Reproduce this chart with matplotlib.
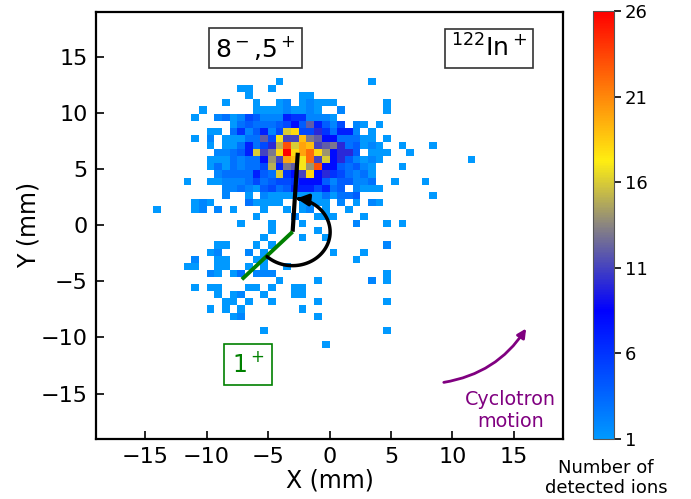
import matplotlib
matplotlib.use('Agg')
import matplotlib.pyplot as plt
import numpy as np
from matplotlib.colors import LinearSegmentedColormap
from matplotlib.patches import FancyArrowPatch
from matplotlib.path import Path

W, H = 691, 499

# detected ions per detector cell, top row first: {column: count}
ion_counts = [
    {-7: 1, 5: 1},
    {-12: 1, -11: 1, -8: 1},
    {-11: 1, -4: 1, -3: 1},
    {-14: 1, -10: 1, -7: 1, -6: 2, -4: 1, -3: 2, -2: 1, -1: 1, 0: 1, 7: 1},
    {-17: 1, -10: 1, -9: 1, -8: 1, -7: 1, -6: 2, -5: 1, -4: 1, -3: 2, -2: 1, 1: 2, 7: 1},
    {-18: 1, -15: 2, -14: 3, -13: 1, -12: 2, -11: 5, -10: 4, -9: 2, -8: 2, -7: 2, -6: 7, -5: 6, -4: 6, -3: 2, -2: 2, -1: 2, 0: 1},
    {-13: 1, -12: 3, -11: 4, -10: 3, -9: 3, -8: 3, -7: 4, -6: 5, -5: 8, -4: 4, -3: 12, -2: 7, -1: 4, 0: 2, 1: 5, 3: 2, 4: 1, 6: 1},
    {-16: 1, -15: 1, -13: 3, -12: 6, -11: 2, -10: 4, -9: 7, -8: 2, -7: 5, -6: 16, -5: 18, -4: 5, -3: 5, -2: 10, -1: 6, 0: 3, 1: 7, 2: 7, 3: 2, 5: 1},
    {-18: 1, -16: 2, -14: 1, -13: 1, -12: 1, -11: 3, -10: 3, -9: 12, -8: 5, -7: 17, -6: 11, -5: 11, -4: 19, -3: 13, -2: 12, -1: 8, 0: 8, 1: 3, 2: 3, 3: 3, 4: 1, 5: 1, 7: 1},
    {-16: 1, -14: 1, -13: 1, -12: 3, -11: 7, -10: 3, -9: 5, -8: 10, -7: 15, -6: 23, -5: 16, -4: 20, -3: 19, -2: 11, -1: 12, 0: 13, 1: 10, 2: 3, 3: 4, 4: 1, 5: 2, 6: 1, 9: 1, 13: 1},
    {-15: 2, -14: 2, -13: 3, -12: 4, -11: 7, -10: 16, -9: 11, -8: 13, -7: 18, -6: 26, -5: 18, -4: 20, -3: 22, -2: 18, -1: 14, 0: 8, 1: 10, 2: 10, 3: 4, 5: 1, 6: 1, 7: 1, 10: 1},
    {-16: 1, -15: 1, -14: 1, -13: 3, -12: 2, -11: 3, -10: 3, -9: 8, -8: 14, -7: 11, -6: 20, -5: 19, -4: 17, -3: 22, -2: 11, -1: 16, 0: 8, 1: 10, 2: 4, 3: 2, 4: 1, 5: 2, 6: 1, 18: 1},
    {-16: 1, -15: 3, -14: 1, -13: 3, -12: 2, -11: 3, -10: 3, -9: 5, -8: 15, -7: 7, -6: 13, -5: 12, -4: 17, -3: 14, -2: 23, -1: 8, 0: 8, 1: 4, 2: 3, 3: 4, 4: 2, 5: 1, 9: 1},
    {-15: 2, -14: 3, -13: 3, -12: 3, -11: 3, -10: 7, -9: 4, -8: 3, -7: 16, -6: 6, -5: 8, -4: 11, -3: 18, -2: 8, -1: 10, 0: 6, 1: 5, 2: 3, 3: 2, 4: 3, 5: 1},
    {-19: 1, -16: 1, -15: 1, -14: 2, -13: 2, -12: 2, -11: 3, -10: 5, -9: 3, -8: 4, -7: 5, -6: 5, -5: 6, -4: 8, -3: 8, -2: 8, -1: 4, 0: 2, 1: 4, 2: 4, 3: 2, 4: 2, 5: 3, 8: 1, 12: 1},
    {-14: 2, -13: 2, -12: 3, -11: 2, -10: 1, -9: 4, -8: 5, -7: 3, -6: 4, -5: 7, -4: 7, -3: 7, -2: 5, -1: 7, 0: 3, 1: 4, 3: 2, 4: 1, 5: 1, 6: 1},
    {-14: 2, -11: 1, -9: 2, -8: 1, -7: 1, -6: 1, -5: 1, -4: 1, -3: 1, -2: 1, -1: 3, 0: 1, 1: 3, 2: 3, 3: 4, 13: 1},
    {-18: 1, -17: 2, -16: 1, -11: 3, -10: 1, -9: 1, -8: 1, -7: 1, -4: 1, -3: 1, -2: 1, -1: 1, 1: 2, 3: 1, 5: 2, 6: 1},
    {-23: 1, -18: 1, -17: 2, -15: 2, -13: 1, -9: 1, -6: 1, -4: 1, -3: 2, -1: 1, 2: 1},
    {-10: 1, -5: 2, -2: 1, -1: 1, 0: 1, 4: 1},
    {-12: 1, -8: 1, -4: 1, 3: 2, 7: 1, 9: 1},
    {-8: 1, -2: 1},
    {-9: 1, -4: 1, -1: 1},
    {-15: 1, -14: 1, -10: 1, -8: 1, 7: 2},
    {-16: 1, -15: 2, -11: 2, -9: 1, 0: 1, 4: 1},
    {-18: 2, -15: 1, -14: 1, -10: 1, -9: 1, 3: 1},
    {-19: 1, -18: 1, -15: 1, -14: 1, -11: 1, -9: 1, -6: 1},
    {-16: 2, -15: 1, -13: 1, -12: 3, -10: 2, -9: 2, -8: 2, 7: 1},
    {-7: 1, -2: 1, 5: 2, 7: 1},
    {-18: 1, -16: 1, -15: 1, -11: 1, -10: 1, -8: 1, -5: 1, -4: 1},
    {-15: 1, -13: 1, -12: 2, -9: 1, -5: 1, -4: 1},
    {-14: 1, -13: 1, -11: 1, -8: 1, -2: 1, 7: 1},
    {-16: 1, -14: 1, -12: 1, -4: 1},
    {-13: 1, -12: 2, -2: 1},
    {},
    {-9: 1, 7: 1},
    {},
    {-1: 1},
]
first_col, last_col = -23, 18
cell_width = 0.625
cell_height = 0.6333
top_edge = 13.12

cbar_ticks = [1, 6, 11, 16, 21, 26]
axis_ticks = [-15, -10, -5, 0, 5, 10, 15]

plt.rcParams['font.family'] = 'DejaVu Sans'

grid = np.zeros((len(ion_counts), last_col - first_col + 1))
for r, row in enumerate(ion_counts):
    for col, n in row.items():
        grid[r, col - first_col] = n
grid = np.ma.masked_equal(grid, 0)

x_edges = cell_width * np.arange(first_col, last_col + 2)
y_edges = top_edge - cell_height * np.arange(len(ion_counts) + 1)

cmap = LinearSegmentedColormap.from_list('ions', [
    (0.0, '#0099ff'), (0.3, '#0000ff'), (0.5, '#8a8580'),
    (0.65, '#ffee11'), (1.0, '#ff0000')])

fig = plt.figure(figsize=(W / 100, H / 100), dpi=100)
ax = fig.add_axes([96 / W, (H - 438.5) / H, 467 / W, 426.5 / H])
mesh = ax.pcolormesh(x_edges, y_edges, grid, cmap=cmap, vmin=1, vmax=26)
ax.set_xlim(-19, 19)
ax.set_ylim(-19, 19)
ax.set_xticks(axis_ticks)
ax.set_yticks(axis_ticks)
ax.tick_params(direction='in', length=6, width=1.2, labelsize=16, pad=6)
for s in ax.spines.values():
    s.set_linewidth(1.6)
ax.set_xlabel('X (mm)', fontsize=17, labelpad=1)
ax.set_ylabel('Y (mm)', fontsize=17, labelpad=0)

# state lines
ax.plot([-3.0, -2.58], [-0.58, 6.46], color='k', lw=3, solid_capstyle='butt')
ax.plot([-3.0, -7.13], [-0.58, -4.82], color='green', lw=2.8, solid_capstyle='butt')

# rotation arc
t = np.radians(np.linspace(-133, 84, 80))
arc = np.column_stack([-3.0 + 3.05 * np.cos(t), -0.6 + 3.0 * np.sin(t)])
ax.add_patch(FancyArrowPatch(path=Path(arc), arrowstyle='-|>', mutation_scale=17,
                             color='k', lw=2.5, zorder=4))

ax.annotate('', xy=(16.0, -9.2), xytext=(9.3, -14.0),
            arrowprops=dict(arrowstyle='-|>', color='purple', lw=2, mutation_scale=13,
                            connectionstyle='arc3,rad=0.22', shrinkA=0, shrinkB=0))
ax.text(14.75, -16.5, 'Cyclotron\nmotion', color='purple', fontsize=13.8, ha='center',
        va='center', linespacing=1.15)

ax.text(-6.0, 15.75, '8$^-$,5$^+$', fontsize=18, ha='center', va='center',
        bbox=dict(boxstyle='square,pad=0.24', fc='white', ec='#333333', lw=1.2))
ax.text(13.0, 15.75, '$^{122}$In$^+$', fontsize=18, ha='center', va='center',
        bbox=dict(boxstyle='square,pad=0.24', fc='white', ec='#333333', lw=1.2))
ax.text(-6.6, -12.4, '1$^+$', fontsize=17, color='green', ha='center', va='center',
        bbox=dict(boxstyle='square,pad=0.33', fc='white', ec='green', lw=1.2))

cax = fig.add_axes([592.5 / W, (H - 439) / H, 21.5 / W, 428 / H])
cb = fig.colorbar(mesh, cax=cax, ticks=cbar_ticks)
cb.ax.tick_params(labelsize=13, length=5, width=1.2, pad=3)
cb.outline.set_edgecolor('#555555')
fig.text(606 / W, (H - 478) / H, 'Number of\ndetected ions', fontsize=13, ha='center',
         va='center', linespacing=1.15)

fig.savefig('out.png', dpi=100)
